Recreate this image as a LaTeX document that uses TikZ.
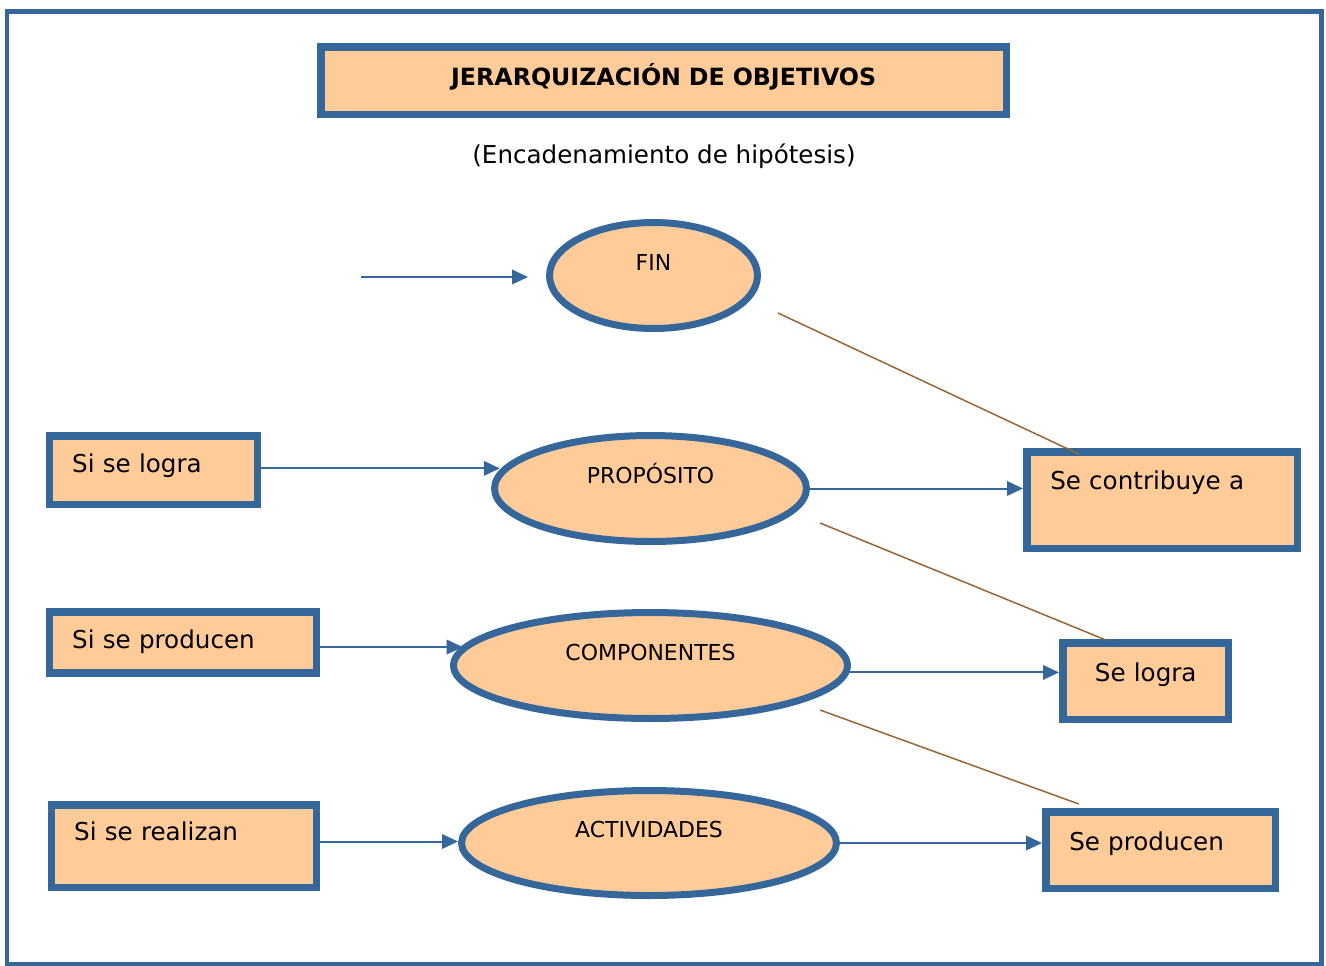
\documentclass[tikz,border=0pt]{standalone}
\usepackage{fontspec}
\setmainfont{DejaVu Sans}
\usetikzlibrary{arrows.meta,calc,shapes.geometric}
\definecolor{azulborde}{RGB}{54,103,154}
\definecolor{melocoton}{RGB}{255,204,153}
\definecolor{marron}{RGB}{153,102,51}
\tikzset{
	caja/.style={draw=azulborde, fill=melocoton, line width=0.15cm, inner ysep=0pt, anchor=north west, align=left, font=\fontsize{14pt}{17pt}\selectfont},
	elipse/.style={ellipse, draw=azulborde, fill=melocoton, line width=0.14cm, inner sep=0pt, minimum height=2.12cm, text height=0.32cm, text depth=0.54cm, font=\fontsize{12.5pt}{15pt}\selectfont},
	flecha/.style={draw=azulborde, line width=0.04cm, -{Triangle[length=0.32cm, width=0.29cm]}},
	enlace/.style={draw=marron, line width=0.03cm}
}

\begin{document}
\begin{tikzpicture}[x=0.02cm, y=-0.02cm]
		%%%%% MARCO %%%%%
		\useasboundingbox (0, 0) rectangle (1326, 965);
		\draw[azulborde, line width=0.1cm] (7, 11) rectangle (1321, 964);
		
		\node[caja, align=center, text width=13.72cm, inner xsep=0pt, text height=0.78cm, text depth=0.58cm, font=\fontsize{13.5pt}{16pt}\selectfont\bfseries] (titulo) at (317, 43) {JERARQUIZACIÓN DE OBJETIVOS};
		\node[font=\fontsize{14pt}{17pt}\selectfont] (subtitulo) at (664, 156) {(Encadenamiento de hipótesis)};
		
		%%%%% ELIPSES %%%%%
		\node[elipse, minimum width=4.16cm] (fin) at (653.5, 275.5) {FIN};
		\node[elipse, minimum width=6.24cm] (proposito) at (650.5, 488.5) {PROPÓSITO};
		\node[elipse, minimum width=7.88cm] (componentes) at (650.5, 665.5) {COMPONENTES};
		\node[elipse, minimum width=7.5cm, minimum height=2.1cm] (actividades) at (649, 843) {ACTIVIDADES};
		
		%%%%% CAJAS %%%%%
		\node[caja, text width=3.26cm, inner xsep=0.45cm, text height=0.74cm, text depth=0.64cm] (silogra) at (46, 432) {Si se logra};
		\node[caja, text width=4.44cm, inner xsep=0.45cm, text height=0.74cm, text depth=0.48cm] (siproducen) at (46, 608) {Si se producen};
		\node[caja, text width=4.4cm, inner xsep=0.45cm, text height=0.72cm, text depth=0.94cm] (sirealizan) at (48, 801) {Si se realizan};
		
		\node[caja, text width=4.48cm, inner xsep=0.47cm, text height=0.76cm, text depth=1.18cm] (contrib) at (1023, 448) {Se contribuye a};
		\node[caja, align=center, text width=3.32cm, inner xsep=0pt, text height=0.78cm, text depth=0.75cm] (selogra) at (1059, 639) {Se logra};
		\node[caja, text width=3.66cm, inner xsep=0.47cm, text height=0.77cm, text depth=0.76cm] (seproducen) at (1042, 808) {Se producen};
		
		%%%%% FLECHAS %%%%%
		\coordinate (entradafin) at (361, 277);
		\draw[flecha, shorten >=0.36cm] (entradafin) -- (entradafin -| fin.west);
		\draw[flecha] (silogra.1) -- (silogra.1 -| proposito.173);
		\draw[flecha] (siproducen.-2) -- (siproducen.-2 -| componentes.174);
		\draw[flecha] (sirealizan.2) -- (sirealizan.2 -| actividades.west);
		
		\draw[flecha] (proposito.east) -- (proposito.east -| contrib.west);
		\draw[flecha] (componentes.-2) -- (componentes.-2 -| selogra.west);
		\draw[flecha] (actividades.east) -- (actividades.east -| seproducen.west);
		
		\coordinate (lineafin) at (778, 313);
		\coordinate (lineaprop) at (820, 523);
		\coordinate (lineacomp) at (820, 710);
		\draw[enlace] (lineafin) -- ($(contrib.north west)!0.2!(contrib.north east)+(0, 6)$);
		\draw[enlace] (lineaprop) -- ($(selogra.north west)!0.27!(selogra.north east)+(0, 1)$);
		\draw[enlace] (lineacomp) -- ($(seproducen.north west)!0.155!(seproducen.north east)+(0, -4)$);
		
		%%%%% FIN %%%%%
	\end{tikzpicture}
\end{document}
